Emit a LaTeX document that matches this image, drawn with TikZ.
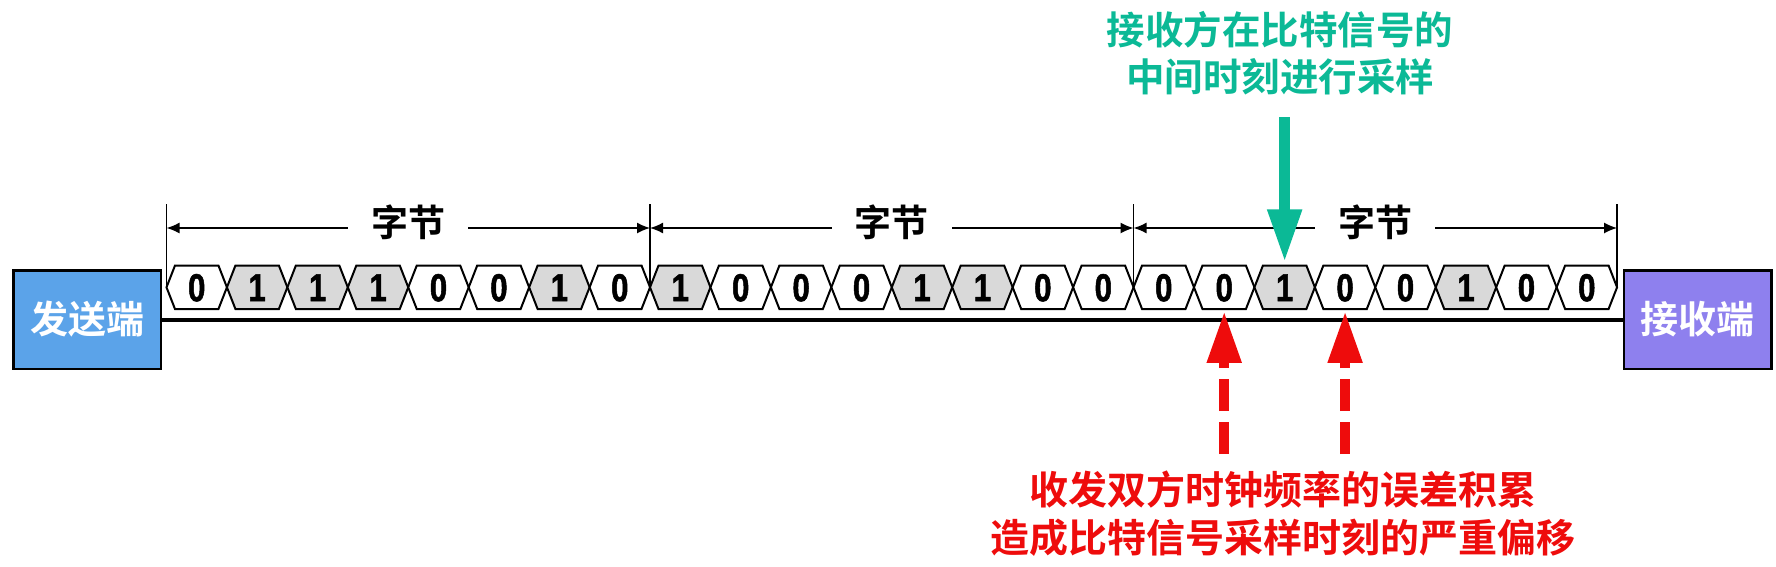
\documentclass[tikz,border=0pt]{standalone}
\usepackage{fontspec}
\usetikzlibrary{arrows.meta}
\newfontfamily\cjkb{Noto Sans CJK SC Bold}
\newfontfamily\digf{Liberation Sans Bold}[FakeStretch=0.8,FakeBold=1.3]
\definecolor{sendblue}{HTML}{5BA3E9}
\definecolor{recvpurple}{HTML}{8E80EE}
\definecolor{hintgreen}{HTML}{0BB996}
\definecolor{errred}{HTML}{EE0C0C}
\definecolor{onegray}{HTML}{D9D9D9}
\begin{document}
\begin{tikzpicture}[x=1pt,y=-1pt,
  endbox/.style={draw=black, line width=2.5pt, minimum width=147.5pt, minimum height=98.5pt,
    inner sep=0pt, text=white, font=\cjkb\fontsize{38}{38}\selectfont},
  hexline/.style={draw=black, line width=2pt},
  bit0/.style={fill=white},
  bit1/.style={fill=onegray},
  digit/.style={minimum width=43pt, minimum height=43.5pt, inner sep=0pt,
    font=\digf\fontsize{39}{39}\selectfont},
  barline/.style={line width=1.5pt},
  dimline/.style={line width=1.5pt, {Latex[length=13pt,width=11pt]}-{Latex[length=13pt,width=11pt]}},
  bytelab/.style={fill=white, inner xsep=23pt, inner ysep=1pt, yshift=5.5pt,
    font=\cjkb\fontsize{37}{37}\selectfont},
  greenarrow/.style={draw=hintgreen, line width=11pt, -{Triangle[length=53pt,width=32pt]}},
  redarrow/.style={draw=errred, line width=10.5pt, dash pattern=on 32pt off 11pt,
    -{Triangle[length=52pt,width=32pt]}},
  greentext/.style={text=hintgreen, align=center, font=\cjkb\fontsize{38.5}{47}\selectfont},
  redtext/.style={text=errred, align=center, font=\cjkb\fontsize{39}{48}\selectfont}
]
\useasboundingbox (0,0) rectangle (1776,566);

% end boxes
\node[endbox, fill=sendblue] (send) at (87,319.5) {发送端};
\node[endbox, fill=recvpurple] (recv) at (1697.5,319.5) {接收端};
\draw[line width=4pt] (send.east) -- (recv.west);

% bits
\foreach \v [count=\n from 0] in {0,1,1,1,0,0,1,0, 1,0,0,0,1,1,0,0, 0,0,1,0,0,1,0,0}{
  \pgfmathsetmacro\xa{166.5+60.44*\n}
  \pgfmathsetmacro\xb{\xa+60.44}
  \draw[hexline, bit\v] (\xa,287.3) -- (\xa+8.5,265.5) -- (\xb-8.5,265.5) -- (\xb,287.3)
    -- (\xb-8.5,309) -- (\xa+8.5,309) -- cycle;
  \node[digit] (b\n) at (\xa+30.22,287.8) {\v};
}

% byte boundaries
\foreach \k in {0,1,2,3}{
  \pgfmathsetmacro\xk{166.5+483.52*\k}
  \coordinate (t\k) at (\xk,204);
  \coordinate (m\k) at (\xk,287.3);
  \coordinate (d\k) at (\xk,228);
  \draw[barline] (t\k) -- (m\k);
}
\draw[dimline] (d0) -- (d1) node[midway, bytelab] (lab1) {字节};
\draw[dimline] (d1) -- (d2) node[midway, bytelab] (lab2) {字节};
\draw[dimline] (d2) -- (d3) node[midway, bytelab] (lab3) {字节};

% green sampling arrow and text
\node[greentext] (gtxt) at (1280,53.5) {接收方在比特信号的\\中间时刻进行采样};
\coordinate (g0) at (b18.north |- 0,117);
\draw[greenarrow, shorten >=3.5pt] (g0) -- (b18.north);

% red error arrows and text
\coordinate (r0) at (b17.south |- 0,454);
\coordinate (r1) at (b19.south |- 0,454);
\draw[redarrow, shorten >=1pt] (r0) -- (b17.south);
\draw[redarrow, shorten >=1pt] (r1) -- (b19.south);
\node[redtext] (rtxt) at (1283,514) {收发双方时钟频率的误差积累\\造成比特信号采样时刻的严重偏移};
\end{tikzpicture}
\end{document}
